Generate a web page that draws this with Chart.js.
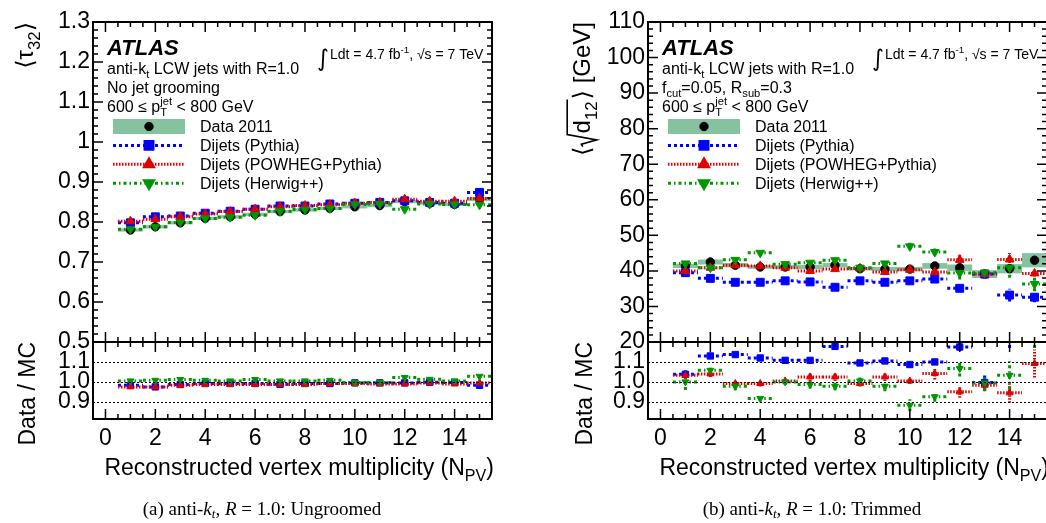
<!DOCTYPE html>
<html>
<head>
<meta charset="utf-8">
<script src="https://cdn.jsdelivr.net/npm/chart.js@4.4.1/dist/chart.umd.min.js"></script>
<style>
    html, body { margin: 0; padding: 0; background: #fff; overflow: hidden; }
    #pagina { position: relative; width: 1046px; height: 523px; overflow: hidden; }
    canvas { position: absolute; top: 0; }
    #painelA { left: 0; }
    #painelB { left: 555px; }
    .legenda { position: absolute; top: 499px; line-height: 1; font-family: 'Liberation Serif', serif; font-size: 19px; color: #000; white-space: nowrap; transform: translateX(-50%); }
    .legenda sub { font-size: 13px; vertical-align: -3px; }
</style>
</head>
<body>
<div id="pagina">
    <canvas id="painelA" width="523" height="523"></canvas>
    <canvas id="painelB" width="523" height="523"></canvas>
    <div class="legenda" style="left:262px">(a) anti-<i>k<sub>t</sub></i>, <i>R</i> = 1.0: Ungroomed</div>
    <div class="legenda" style="left:812px">(b) anti-<i>k<sub>t</sub></i>, <i>R</i> = 1.0: Trimmed</div>
</div>
<script>
// eixo x comum
const nPV = [1, 2, 3, 4, 5, 6, 7, 8, 9, 10, 11, 12, 13, 14, 15]
const xTicks = [0, 2, 4, 6, 8, 10, 12, 14]
const linhasRazao = [0.9, 1.0, 1.1]
const ticksRazao = [0.9, 1.0, 1.1]
const rotulosRazao = ['0.9', '1.0', '1.1']
const legendas = ['Data 2011', 'Dijets (Pythia)', 'Dijets (POWHEG+Pythia)', 'Dijets (Herwig++)']

// (a) tau32 sem grooming
const tauTicks = [0.5, 0.6, 0.7, 0.8, 0.9, 1.0, 1.1, 1.2, 1.3]
const tauRotulos = ['0.5', '0.6', '0.7', '0.8', '0.9', '1', '1.1', '1.2', '1.3']
const tauDados = [0.780, 0.788, 0.798, 0.809, 0.813, 0.819, 0.826, 0.830, 0.834, 0.838, 0.841, 0.851, 0.847, 0.844, 0.857]
const tauDadosErro = [0.004, 0.004, 0.004, 0.004, 0.004, 0.004, 0.004, 0.004, 0.004, 0.004, 0.004, 0.004, 0.004, 0.004, 0.005]
const tauPythia = [0.798, 0.813, 0.815, 0.822, 0.827, 0.832, 0.840, 0.840, 0.845, 0.847, 0.849, 0.853, 0.849, 0.847, 0.874]
const tauPowheg = [0.802, 0.807, 0.813, 0.820, 0.826, 0.832, 0.838, 0.841, 0.843, 0.847, 0.849, 0.857, 0.852, 0.852, 0.859]
const tauHerwig = [0.782, 0.788, 0.799, 0.809, 0.812, 0.817, 0.827, 0.831, 0.834, 0.844, 0.845, 0.832, 0.845, 0.844, 0.843]
const tauRazaoPythia = [0.983, 0.975, 0.987, 0.992, 0.992, 0.992, 0.988, 0.992, 0.992, 0.995, 0.995, 0.995, 0.998, 0.997, 0.983]
const tauRazaoPowheg = [0.975, 0.975, 0.983, 0.987, 0.987, 0.987, 0.987, 0.987, 0.992, 0.992, 0.990, 0.990, 0.995, 0.990, 0.995]
const tauRazaoHerwig = [1.005, 1.008, 1.012, 1.008, 1.005, 1.012, 1.005, 1.005, 1.008, 0.997, 0.997, 1.022, 1.013, 1.005, 1.028]

// (b) sqrt(d12) trimmed
const d12Ticks = [20, 30, 40, 50, 60, 70, 80, 90, 100, 110]
const d12Rotulos = ['20', '30', '40', '50', '60', '70', '80', '90', '100', '110']
const d12Dados = [41.4, 42.5, 41.6, 41.1, 41.1, 41.1, 41.6, 40.6, 40.5, 40.5, 41.4, 40.9, 39.1, 40.6, 43.0]
const d12DadosErro = [0.6, 0.7, 0.6, 0.5, 0.5, 0.6, 0.6, 0.5, 0.6, 0.6, 0.8, 0.9, 1.1, 1.3, 2.0]
const d12Pythia = [39.5, 37.9, 36.8, 36.8, 37.2, 36.9, 35.4, 37.2, 36.8, 37.2, 37.7, 35.1, 39.1, 33.2, 32.6]
const d12PythiaErro = [0.5, 0.3, 0.3, 0.3, 0.3, 0.3, 0.5, 0.3, 0.3, 0.3, 0.3, 0.6, 0.8, 1.8, 1.4]
const d12Powheg = [40.0, 40.9, 41.6, 41.4, 40.9, 40.0, 40.5, 40.7, 39.7, 40.3, 39.7, 43.1, 39.1, 43.2, 39.3]
const d12PowhegErro = [0.4, 0.5, 0.5, 0.5, 0.5, 0.7, 0.6, 0.5, 0.7, 0.5, 0.7, 1.5, 0.8, 1.8, 0.9]
const d12Herwig = [42.1, 40.9, 43.1, 45.1, 41.9, 42.3, 43.0, 40.9, 42.1, 46.9, 45.3, 39.4, 39.5, 40.9, 36.3]
const d12HerwigErro = [0.7, 0.6, 0.8, 0.5, 0.5, 0.7, 0.8, 0.5, 0.8, 1.0, 1.0, 1.8, 1.2, 2.8, 2.0]
const d12RazaoPythia = [1.038, 1.130, 1.137, 1.120, 1.108, 1.108, 1.178, 1.095, 1.105, 1.087, 1.100, 1.175, 0.997, 1.220, 1.320]
const d12RazaoPythiaErro = [0.02, 0.015, 0.01, 0.01, 0.01, 0.01, 0.01, 0.01, 0.01, 0.015, 0.015, 0.02, 0.04, 0.05, 0.05]
const d12RazaoPowheg = [1.033, 1.040, 0.992, 0.992, 1.005, 1.025, 1.025, 0.992, 1.025, 1.005, 1.042, 0.950, 0.983, 0.945, 1.092]
const d12RazaoPowhegErro = [0.02, 0.015, 0.015, 0.015, 0.015, 0.02, 0.02, 0.015, 0.02, 0.015, 0.03, 0.03, 0.03, 0.05, 0.07]
const d12RazaoHerwig = [1.000, 1.058, 0.978, 0.917, 1.000, 0.987, 0.978, 1.005, 0.978, 0.883, 0.925, 1.067, 0.995, 1.033, 1.220]
const d12RazaoHerwigErro = [0.04, 0.025, 0.02, 0.015, 0.015, 0.02, 0.02, 0.02, 0.025, 0.03, 0.025, 0.04, 0.04, 0.07, 0.05]

const FONTE = "'Liberation Sans', 'DejaVu Sans', sans-serif"
const VERDE_FAIXA = 'rgb(134,193,160)'

const estilos = {
    dados:  {cor: '#000000', ponto: 'circle', raio: 4.2, rot: 0},
    pythia: {cor: 'rgb(0,0,255)', traco: [3, 3], ponto: 'rect', raio: 5.6, rot: 0},
    powheg: {cor: 'rgb(225,0,0)', traco: [1.5, 1.5], ponto: 'triangle', raio: 5, rot: 0},
    herwig: {cor: 'rgb(0,150,0)', traco: [3, 3, 1.5, 3], ponto: 'triangle', raio: 5, rot: 180}
}

// definicoes de cada painel, lidas pelo plugin a partir do id do canvas
const paineis = {}

// texto com subscrito / sobrescrito / raiz
function escreverRico(ctx, x, y, partes, tam, peso, desenhar = true){
    const fonte = (t) => `${peso} ${t}px ${FONTE}`
    let cx = x
    for( const p of partes ){
        if( p.raiz ){
            const larg = escreverRico(ctx, 0, 0, p.raiz, tam, peso, false)
            if( desenhar ){
                ctx.save()
                ctx.lineWidth = 1.6
                ctx.beginPath()
                ctx.moveTo(cx, y - 0.3 * tam)
                ctx.lineTo(cx + 0.1 * tam, y - 0.36 * tam)
                ctx.lineTo(cx + 0.28 * tam, y + 0.28 * tam)
                ctx.lineTo(cx + 0.5 * tam, y - 0.95 * tam)
                ctx.lineTo(cx + 0.55 * tam + larg + 2, y - 0.95 * tam)
                ctx.stroke()
                ctx.restore()
                escreverRico(ctx, cx + 0.55 * tam, y, p.raiz, tam, peso, true)
            }
            cx += 0.55 * tam + larg + 2
        } else if( p.sub !== undefined || p.sup !== undefined ){
            ctx.font = fonte(tam * 0.7)
            let larg = 0
            if( p.sup !== undefined ){
                if( desenhar ) ctx.fillText(p.sup, cx, y - tam * 0.42)
                larg = Math.max(larg, ctx.measureText(p.sup).width)
            }
            if( p.sub !== undefined ){
                if( desenhar ) ctx.fillText(p.sub, cx, y + tam * 0.28)
                larg = Math.max(larg, ctx.measureText(p.sub).width)
            }
            cx += larg
        } else {
            ctx.font = fonte(tam)
            if( desenhar ) ctx.fillText(p.t, cx, y)
            cx += ctx.measureText(p.t).width
        }
    }
    return cx - x
}

function escreverVertical(ctx, xBase, yTopo, partes, tam){
    const larg = escreverRico(ctx, 0, 0, partes, tam, '', false)
    ctx.save()
    ctx.translate(xBase, yTopo)
    ctx.rotate(-Math.PI / 2)
    escreverRico(ctx, -larg, 0, partes, tam, '')
    ctx.restore()
}

const pluginAtlas = {
    id: 'atlasMoldura',
    beforeDatasetsDraw(chart){
        const def = paineis[chart.canvas.id]
        const ctx = chart.ctx
        const xs = chart.scales.x
        const ys = chart.scales.y
        ctx.save()
        ctx.fillStyle = VERDE_FAIXA
        nPV.forEach((n, i) => {
            const x0 = xs.getPixelForValue(n - 0.5)
            const x1 = xs.getPixelForValue(n + 0.5)
            const y0 = ys.getPixelForValue(def.dados[i] + def.erroDados[i])
            const y1 = ys.getPixelForValue(def.dados[i] - def.erroDados[i])
            ctx.fillRect(x0, y0, x1 - x0, Math.max(y1 - y0, 2))
        })
        ctx.restore()
    },
    beforeDatasetDraw(chart, args){
        const ys = args.meta.yScale
        const area = chart.chartArea
        chart.ctx.save()
        chart.ctx.beginPath()
        chart.ctx.rect(area.left, ys.top, area.right - area.left, ys.bottom - ys.top)
        chart.ctx.clip()
    },
    afterDatasetDraw(chart){
        chart.ctx.restore()
    },
    afterDraw(chart){
        desenharMoldura(chart)
        desenharTextos(chart)
    }
}

function desenharMoldura(chart){
    const def = paineis[chart.canvas.id]
    const ctx = chart.ctx
    const area = chart.chartArea
    const xs = chart.scales.x
    ctx.save()
    ctx.strokeStyle = '#000'
    ctx.setLineDash([])

    // linhas pontilhadas do painel de razao
    const yr = chart.scales.yr
    ctx.lineWidth = 1
    ctx.setLineDash([2, 2])
    for( const v of linhasRazao ){
        const py = Math.round(yr.getPixelForValue(v)) + 0.5
        ctx.beginPath()
        ctx.moveTo(area.left, py)
        ctx.lineTo(area.right, py)
        ctx.stroke()
    }
    ctx.setLineDash([])

    for( const id of ['y', 'yr'] ){
        const ys = chart.scales[id]
        ctx.lineWidth = 1.5
        // ticks do eixo x (topo e base de cada painel)
        for( let v = -0.5; v <= 15.5; v += 0.5 ){
            const px = xs.getPixelForValue(v)
            const maior = v >= 0 && v % 2 === 0
            const comp = maior ? 10 : 5
            ctx.beginPath()
            ctx.moveTo(px, ys.top)
            ctx.lineTo(px, ys.top + comp)
            ctx.moveTo(px, ys.bottom)
            ctx.lineTo(px, ys.bottom - comp)
            ctx.stroke()
        }
        ctx.lineWidth = 2
        ctx.strokeRect(area.left, ys.top, area.right - area.left, ys.bottom - ys.top)
    }

    // ticks do eixo y principal
    const ys = chart.scales.y
    ctx.lineWidth = 1.5
    const passo = def.yMenor
    for( let k = 0; def.yMin + k * passo <= def.yMax + passo / 2; k++ ){
        const v = def.yMin + k * passo
        const maior = def.yTicks.some(t => Math.abs(t - v) < passo / 10)
        const comp = maior ? 10 : 5
        const py = ys.getPixelForValue(v)
        ctx.beginPath()
        ctx.moveTo(area.left, py)
        ctx.lineTo(area.left + comp, py)
        ctx.moveTo(area.right, py)
        ctx.lineTo(area.right - comp, py)
        ctx.stroke()
    }
    ctx.restore()
}

function desenharTextos(chart){
    const def = paineis[chart.canvas.id]
    const ctx = chart.ctx
    const area = chart.chartArea
    const esq = area.left
    ctx.save()
    ctx.fillStyle = '#000'
    ctx.strokeStyle = '#000'
    ctx.textAlign = 'left'
    ctx.textBaseline = 'alphabetic'

    // titulos dos eixos
    escreverVertical(ctx, def.xTituloY, chart.scales.y.top, def.tituloY, 24)
    escreverVertical(ctx, def.xTituloY + 2, chart.scales.yr.top, [{t: 'Data / MC'}], 23)
    const tituloX = [{t: 'Reconstructed vertex multiplicity (N'}, {sub: 'PV'}, {t: ')'}]
    const largX = escreverRico(ctx, 0, 0, tituloX, 23, '', false)
    escreverRico(ctx, area.right + 2 - largX, 475, tituloX, 23, '')

    // ATLAS e rotulos
    escreverRico(ctx, esq + 14, 55, [{t: 'ATLAS'}], 22, 'italic bold')
    def.linhas.forEach((linha, i) => {
        escreverRico(ctx, esq + 14, 74 + i * 19, linha, 16, '')
    })
    ctx.font = `23px 'DejaVu Sans'`
    ctx.fillText('∫', esq + 224, 66)
    escreverRico(ctx, esq + 237, 59, [{t: 'Ldt = 4.7 fb'}, {sup: '-1'}, {t: ', √s = 7 TeV'}], 14, '')

    // legenda
    const series = [estilos.dados, estilos.pythia, estilos.powheg, estilos.herwig]
    series.forEach((est, i) => {
        const yl = 126.5 + i * 18.9
        if( i === 0 ){
            ctx.fillStyle = VERDE_FAIXA
            ctx.fillRect(esq + 20, yl - 7.5, 72, 15)
        } else {
            ctx.strokeStyle = est.cor
            ctx.lineWidth = 3
            ctx.setLineDash(est.traco)
            ctx.beginPath()
            ctx.moveTo(esq + 20, yl)
            ctx.lineTo(esq + 92, yl)
            ctx.stroke()
            ctx.setLineDash([])
        }
        ctx.fillStyle = est.cor
        ctx.strokeStyle = est.cor
        Chart.helpers.drawPoint(ctx, {pointStyle: est.ponto, radius: est.raio, rotation: est.rot, borderWidth: 1}, esq + 56, yl)
        ctx.fillStyle = '#000'
        escreverRico(ctx, esq + 107, yl + 5.6, [{t: legendas[i]}], 16, '')
    })
    ctx.restore()
}

class PainelAtlas {
    constructor(def){
        this.def = def
        this.grafico = null
        paineis[def.idCanvas] = def
    }

    segmentos(valores, erros){
        const pontos = []
        nPV.forEach((n, i) => {
            pontos.push({x: n - 0.5, y: valores[i]}, {x: n + 0.5, y: valores[i]}, {x: n, y: null})
            if( erros ){
                pontos.push({x: n, y: valores[i] - erros[i]}, {x: n, y: valores[i] + erros[i]}, {x: n, y: null})
            }
        })
        return pontos
    }

    marcadores(valores, est, eixo, escala, ordem){
        return {
            data: nPV.map((n, i) => ({x: n, y: valores[i]})),
            yAxisID: eixo,
            showLine: false,
            pointStyle: est.ponto,
            pointRadius: est.raio * escala,
            pointRotation: est.rot,
            pointBackgroundColor: est.cor,
            pointBorderColor: est.cor,
            pointBorderWidth: 1,
            order: ordem
        }
    }

    linha(valores, erros, est, eixo, ordem){
        return {
            data: this.segmentos(valores, erros),
            yAxisID: eixo,
            borderColor: est.cor,
            borderWidth: 3,
            borderDash: est.traco,
            pointRadius: 0,
            spanGaps: false,
            fill: false,
            tension: 0,
            order: ordem
        }
    }

    montarDatasets(){
        const def = this.def
        const datasets = []
        def.series.forEach((s, k) => {
            const ordemBase = 10 - 2 * k
            datasets.push(this.linha(s.valores, s.erros, s.estilo, 'y', ordemBase + 10))
            datasets.push(this.marcadores(s.valores, s.estilo, 'y', 1, ordemBase))
            datasets.push(this.linha(s.razao, s.errosRazao, s.estilo, 'yr', ordemBase + 10))
            datasets.push(this.marcadores(s.razao, s.estilo, 'yr', 0.8, ordemBase))
        })
        datasets.push(this.marcadores(def.dados, estilos.dados, 'y', 1, 12))
        return datasets
    }

    obterConfiguracao(){
        const def = this.def
        const fonteTick = {family: FONTE, size: 23}
        return {
            type: 'line',
            data: { datasets: this.montarDatasets() },
            options: {
                responsive: false,
                animation: false,
                events: [],
                devicePixelRatio: 1,
                layout: { padding: {left: 0, right: 31, top: 22, bottom: 74} },
                plugins: { legend: {display: false}, tooltip: {enabled: false} },
                scales: {
                    x: {
                        type: 'linear', min: -0.5, max: 15.5,
                        grid: {display: false, drawTicks: false},
                        border: {display: false},
                        ticks: {autoSkip: false, maxRotation: 0, font: fonteTick, color: '#000', padding: 6, callback: (v) => String(v)},
                        afterBuildTicks: (e) => { e.ticks = xTicks.map(v => ({value: v})) },
                        afterFit: (e) => { e.height = 30 }
                    },
                    // painel de razao (embaixo) declarado antes do principal
                    yr: {
                        type: 'linear', position: 'left', stack: 'pad', stackWeight: 77,
                        min: 0.814, max: 1.2,
                        grid: {display: false, drawTicks: false},
                        border: {display: false},
                        ticks: {autoSkip: false, font: fonteTick, color: '#000', padding: 3, callback: (v, i) => rotulosRazao[i]},
                        afterBuildTicks: (e) => { e.ticks = ticksRazao.map(v => ({value: v})) },
                        afterFit: (e) => { e.width = 93 }
                    },
                    y: {
                        type: 'linear', position: 'left', stack: 'pad', stackWeight: 320,
                        min: def.yMin, max: def.yMax,
                        grid: {display: false, drawTicks: false},
                        border: {display: false},
                        ticks: {autoSkip: false, font: fonteTick, color: '#000', padding: 3, callback: (v, i) => def.yRotulos[i]},
                        afterBuildTicks: (e) => { e.ticks = def.yTicks.map(v => ({value: v})) },
                        afterFit: (e) => { e.width = 93 }
                    }
                }
            },
            plugins: [pluginAtlas]
        }
    }

    plotarGrafico(){
        if( this.grafico != null ){
            this.grafico.destroy()
        }
        const canvas = document.getElementById(this.def.idCanvas)
        this.grafico = new Chart(canvas, this.obterConfiguracao())
    }
}

const linhaJatos = [{t: 'anti-k'}, {sub: 't'}, {t: ' LCW jets with R=1.0'}]
const linhaPt = [{t: '600 ≤ p'}, {sub: 'T', sup: 'jet'}, {t: ' < 800 GeV'}]

const painelA = new PainelAtlas({
    idCanvas: 'painelA',
    dados: tauDados, erroDados: tauDadosErro,
    series: [
        {estilo: estilos.pythia, valores: tauPythia, erros: null, razao: tauRazaoPythia, errosRazao: null},
        {estilo: estilos.powheg, valores: tauPowheg, erros: null, razao: tauRazaoPowheg, errosRazao: null},
        {estilo: estilos.herwig, valores: tauHerwig, erros: null, razao: tauRazaoHerwig, errosRazao: null}
    ],
    yMin: 0.5, yMax: 1.3, yMenor: 0.02, yTicks: tauTicks, yRotulos: tauRotulos,
    xTituloY: 33,
    tituloY: [{t: '⟨τ'}, {sub: '32'}, {t: '⟩'}],
    linhas: [linhaJatos, [{t: 'No jet grooming'}], linhaPt]
})

const painelB = new PainelAtlas({
    idCanvas: 'painelB',
    dados: d12Dados, erroDados: d12DadosErro,
    series: [
        {estilo: estilos.pythia, valores: d12Pythia, erros: d12PythiaErro, razao: d12RazaoPythia, errosRazao: d12RazaoPythiaErro},
        {estilo: estilos.powheg, valores: d12Powheg, erros: d12PowhegErro, razao: d12RazaoPowheg, errosRazao: d12RazaoPowhegErro},
        {estilo: estilos.herwig, valores: d12Herwig, erros: d12HerwigErro, razao: d12RazaoHerwig, errosRazao: d12RazaoHerwigErro}
    ],
    yMin: 20, yMax: 110, yMenor: 2, yTicks: d12Ticks, yRotulos: d12Rotulos,
    xTituloY: 35,
    tituloY: [{t: '⟨'}, {raiz: [{t: 'd'}, {sub: '12'}]}, {t: '⟩ [GeV]'}],
    linhas: [linhaJatos, [{t: 'f'}, {sub: 'cut'}, {t: '=0.05, R'}, {sub: 'sub'}, {t: '=0.3'}], linhaPt]
})

painelA.plotarGrafico()
painelB.plotarGrafico()
</script>
</body>
</html>
